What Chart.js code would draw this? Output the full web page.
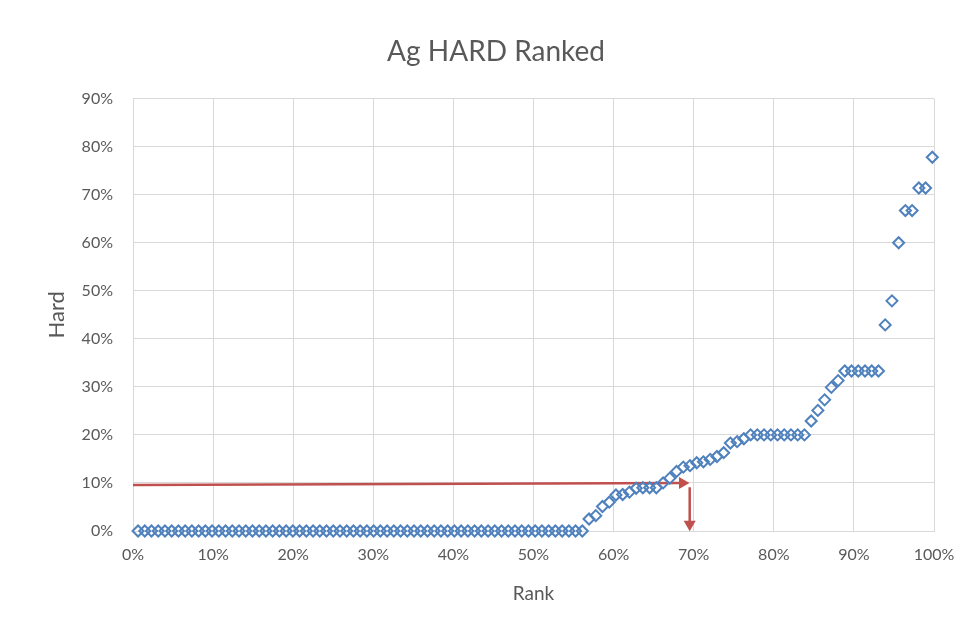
<!DOCTYPE html>
<html>
<head>
<meta charset="utf-8">
<script src="https://cdn.jsdelivr.net/npm/chart.js@4"></script>
<style>
  html, body { margin: 0; padding: 0; background: #fff; }
  canvas { display: block; }
</style>
</head>
<body>
<canvas id="rankChart" width="969" height="629"></canvas>
<script>
// Hard (%) for each sample, sorted ascending
const hard = [
  0, 0, 0, 0, 0, 0, 0, 0, 0, 0,
  0, 0, 0, 0, 0, 0, 0, 0, 0, 0,
  0, 0, 0, 0, 0, 0, 0, 0, 0, 0,
  0, 0, 0, 0, 0, 0, 0, 0, 0, 0,
  0, 0, 0, 0, 0, 0, 0, 0, 0, 0,
  0, 0, 0, 0, 0, 0, 0, 0, 0, 0,
  0, 0, 0, 0, 0, 0, 0,
  2.5, 3.2, 5.1, 6.0, 7.5, 7.6, 8.1, 8.9, 9.0, 9.0,
  9.0, 10.0, 11.0, 12.4, 13.3, 13.6, 14.2, 14.4, 14.9, 15.5,
  16.3, 18.3, 18.6, 19.2,
  20, 20, 20, 20, 20, 20, 20, 20, 20,
  22.9, 25.1, 27.3, 29.9, 31.3,
  33.3, 33.3, 33.3, 33.3, 33.3, 33.3,
  42.9, 47.9, 60.0, 66.7, 66.7, 71.4, 71.4, 77.8
];

// rank of each sample (%)
const rank = hard.map((v, i) => (i + 0.75) / hard.length * 100);

// red arrows drawn on the chart (x = rank %, y = hard %)
const arrowAcrossX = [0, 68.6];
const arrowAcrossY = [9.6, 10.0];
const arrowDownX = [69.5, 69.5];
const arrowDownY = [9.1, 1.4];

const xTicks = [0, 10, 20, 30, 40, 50, 60, 70, 80, 90, 100];
const yTicks = [0, 10, 20, 30, 40, 50, 60, 70, 80, 90];

const grey = "#595959";
const gridGrey = "#D9D9D9";
const blue = "#4F81BD";
const red = "#C0504D";

const points = rank.map((x, i) => ({ x, y: hard[i] }));
const across = arrowAcrossX.map((x, i) => ({ x, y: arrowAcrossY[i] }));
const down = arrowDownX.map((x, i) => ({ x, y: arrowDownY[i] }));

const arrowDataset = (data, rot) => ({
  type: "line",
  data,
  clip: false,
  borderColor: red,
  backgroundColor: red,
  borderWidth: 2.5,
  pointStyle: "triangle",
  pointRotation: [0, rot],
  pointRadius: [0, 7],
  pointBorderWidth: 0,
  pointHoverRadius: 0
});

new Chart(document.getElementById("rankChart"), {
  type: "scatter",
  data: {
    datasets: [
      {
        data: points,
        clip: false,
        pointStyle: "rectRot",
        pointRadius: 5.5,
        pointHoverRadius: 5.5,
        borderColor: blue,
        backgroundColor: "rgba(0,0,0,0)",
        borderWidth: 2
      },
      arrowDataset(across, 90),
      arrowDataset(down, 180)
    ]
  },
  options: {
    responsive: false,
    animation: false,
    events: [],
    layout: { padding: { left: 58, right: 35, top: 0, bottom: 0 } },
    plugins: {
      legend: { display: false },
      tooltip: { enabled: false },
      title: {
        display: true,
        text: "Ag HARD Ranked",
        color: grey,
        font: { family: "Lato", size: 28, weight: "normal" },
        padding: { top: 35, bottom: 30 }
      }
    },
    scales: {
      x: {
        type: "linear",
        min: 0,
        max: 100,
        afterBuildTicks: s => { s.ticks = xTicks.map(v => ({ value: v })); },
        afterFit: s => { s.height = 98; },
        ticks: {
          color: grey,
          font: { family: "Lato", size: 16 },
          padding: 14,
          maxRotation: 0,
          callback: v => v + "%"
        },
        grid: { color: gridGrey, drawTicks: false },
        border: { color: gridGrey },
        title: {
          display: true,
          text: "Rank",
          color: grey,
          font: { family: "Lato", size: 19 },
          padding: { top: 4, bottom: 24 }
        }
      },
      y: {
        type: "linear",
        min: 0,
        max: 90,
        afterBuildTicks: s => { s.ticks = yTicks.map(v => ({ value: v })); },
        afterFit: s => { s.width = 75; },
        ticks: {
          color: grey,
          font: { family: "Lato", size: 16 },
          padding: 20,
          callback: v => v + "%"
        },
        grid: { color: gridGrey, drawTicks: false },
        border: { color: gridGrey },
        title: {
          display: true,
          text: "Hard",
          color: grey,
          font: { family: "Lato", size: 22 },
          padding: { top: -14, bottom: 0 }
        }
      }
    }
  }
});
</script>
</body>
</html>
